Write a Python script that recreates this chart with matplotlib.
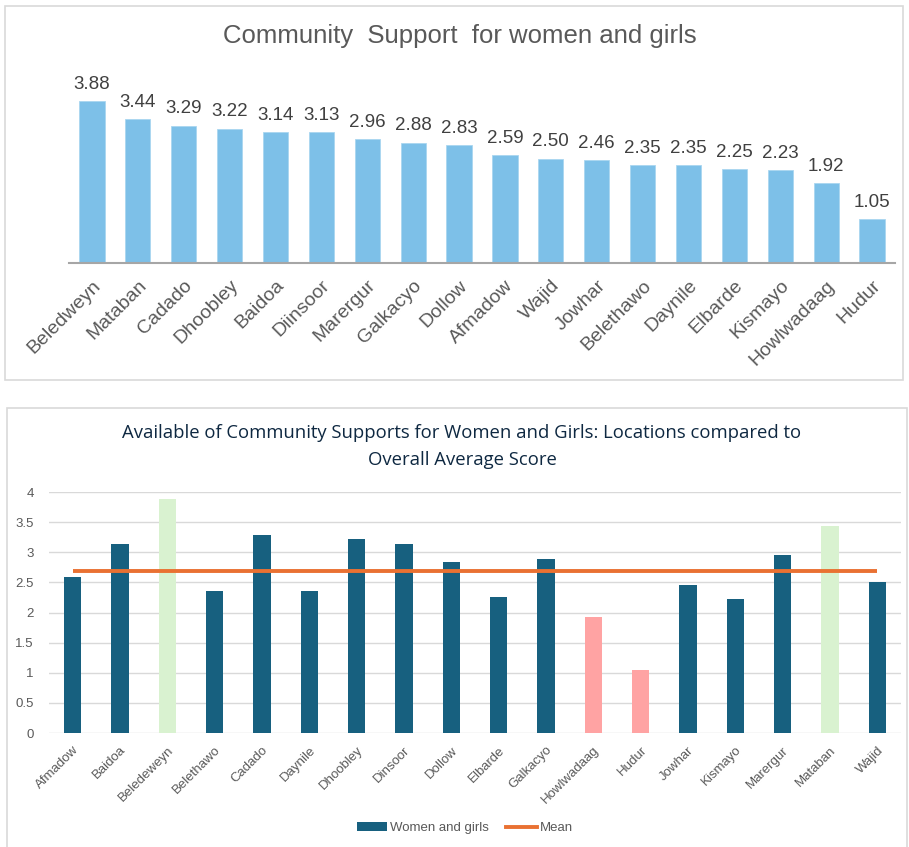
import matplotlib.pyplot as plt
from matplotlib.patches import Rectangle
from matplotlib.lines import Line2D
from matplotlib.patches import Patch
import numpy as np

# ranked scores (top chart)
ranked_sites = ["Beledweyn", "Mataban", "Cadado", "Dhoobley", "Baidoa", "Diinsoor",
                "Marergur", "Galkacyo", "Dollow", "Afmadow", "Wajid", "Jowhar",
                "Belethawo", "Daynile", "Elbarde", "Kismayo", "Howlwadaag", "Hudur"]
ranked_scores = [3.88, 3.44, 3.29, 3.22, 3.14, 3.13, 2.96, 2.88, 2.83, 2.59, 2.50,
                 2.46, 2.35, 2.35, 2.25, 2.23, 1.92, 1.05]

# alphabetical scores (bottom chart)
sites = ["Afmadow", "Baidoa", "Beledeweyn", "Belethawo", "Cadado", "Daynile",
         "Dhoobley", "Dinsoor", "Dollow", "Elbarde", "Galkacyo", "Howlwadaag",
         "Hudur", "Jowhar", "Kismayo", "Marergur", "Mataban", "Wajid"]
scores = [2.59, 3.14, 3.88, 2.35, 3.29, 2.35, 3.22, 3.13, 2.83, 2.25, 2.88, 1.92,
          1.05, 2.46, 2.23, 2.96, 3.44, 2.50]
highlight = {"Beledeweyn": "high", "Mataban": "high", "Howlwadaag": "low", "Hudur": "low"}

mean_score = np.mean(scores)

W, H = 909, 847
fig = plt.figure(figsize=(W / 100, H / 100), dpi=100)

# chart frames
for (x0, y0, x1, y1) in [(5, 6, 903, 380), (7, 408, 907, 860)]:
    fig.patches.append(Rectangle((x0 / W, 1 - y1 / H), (x1 - x0) / W, (y1 - y0) / H,
                                 transform=fig.transFigure, fill=False,
                                 edgecolor="#D9D9D9", lw=1.2))

# ---- top chart ----
ax1 = fig.add_axes([69 / W, 1 - 263 / H, (895 - 69) / W, 192 / H])
x1 = np.arange(len(ranked_sites))
ax1.bar(x1, ranked_scores, width=0.55, color="#7DC0E8",
        edgecolor="#A9D6F0", linewidth=0.6)
for xi, v in zip(x1, ranked_scores):
    ax1.annotate(f"{v:.2f}", (xi, v), xytext=(0, 6), textcoords="offset points",
                 ha="center", va="bottom", fontsize=13.5, color="#404040",
                 family="Liberation Sans")
ax1.set_xlim(-0.5, len(ranked_sites) - 0.5)
ax1.set_ylim(0, 4.6)
ax1.set_yticks([])
for s in ["top", "right", "left"]:
    ax1.spines[s].set_visible(False)
ax1.spines["bottom"].set_color("#A6A6A6")
ax1.spines["bottom"].set_linewidth(1.5)
ax1.set_xticks(x1)
ax1.set_xticklabels(ranked_sites, rotation=45, ha="right", rotation_mode="anchor",
                    fontsize=14, color="#595959", family="Liberation Sans")
ax1.tick_params(axis="x", length=0, pad=10)
fig.text(460 / W, 1 - 36 / H, "Community  Support  for women and girls",
         ha="center", va="center", fontsize=18.5, color="#595959",
         family="Liberation Sans")

# ---- bottom chart ----
ax2 = fig.add_axes([49 / W, 1 - 733 / H, 852 / W, 241 / H])
x2 = np.arange(len(sites))
colors = []
for s in sites:
    tag = highlight.get(s)
    colors.append("#D9F2D0" if tag == "high" else "#FFA3A3" if tag == "low" else "#17607F")
ax2.bar(x2, scores, width=0.36, color=colors, zorder=2)
ax2.plot(x2, [mean_score] * len(x2), color="#E97132", lw=2.8, zorder=3,
         solid_capstyle="butt")
ax2.set_xlim(-0.5, len(sites) - 0.5)
ax2.set_ylim(0, 4)
ax2.set_yticks(np.arange(0, 4.01, 0.5))
ax2.set_yticklabels(["0", "0.5", "1", "1.5", "2", "2.5", "3", "3.5", "4"],
                    fontsize=9.5, color="#595959", family="Liberation Sans")
ax2.grid(axis="y", color="#D9D9D9", lw=1, zorder=0)
for s in ["top", "right", "left", "bottom"]:
    ax2.spines[s].set_visible(False)
ax2.tick_params(axis="y", length=0, pad=11)
ax2.set_xticks(x2)
ax2.set_xticklabels(sites, rotation=45, ha="right", rotation_mode="anchor",
                    fontsize=9.5, color="#595959", family="Liberation Sans")
ax2.tick_params(axis="x", length=0, pad=8)

fig.text(462 / W, 1 - 433 / H, "Available of Community Supports for Women and Girls: Locations compared to",
         ha="center", va="center", fontsize=13.3, color="#0E2841", family="Open Sans")
fig.text(462 / W, 1 - 460 / H, "Overall Average Score",
         ha="center", va="center", fontsize=13.3, color="#0E2841", family="Open Sans")

handles = [Patch(facecolor="#17607F", label="Women and girls"),
           Line2D([], [], color="#E97132", lw=2.8, label="Mean")]
fig.legend(handles=handles, loc="center", bbox_to_anchor=(465 / W, 1 - 828 / H),
           ncol=2, frameon=False, handlelength=2.3, handleheight=0.6,
           handletextpad=0.25, columnspacing=1.3,
           prop={"family": "Liberation Sans", "size": 9.5}, labelcolor="#595959")

fig.savefig("out.png", dpi=100)
